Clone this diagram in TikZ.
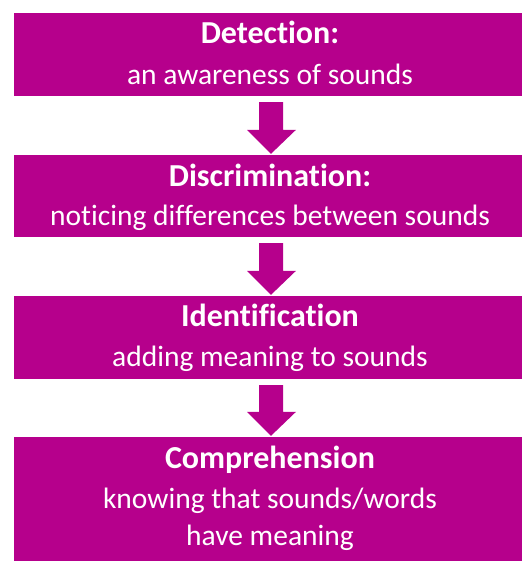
\documentclass[tikz,border=0pt]{standalone}
\usepackage{fontspec}
\setmainfont{Carlito}[RawFeature={-liga}]
\usetikzlibrary{calc}
\definecolor{boxmag}{RGB}{182,0,140}
\newcommand\flowarrow[2]{%
  \fill[arrowfill] ($(#1.south)+(-9,6)$) -- ($(#1.south)+(15,6)$) -- ($(#2.north)+(15,-25)$) -- ($(#2.north)+(28,-25)$) -- ($(#2.north)+(3,-1)$) -- ($(#2.north)+(-21,-25)$) -- ($(#2.north)+(-9,-25)$) -- cycle;}
\begin{document}
\begin{tikzpicture}[x=1pt,y=-1pt,
  stagebox/.style={fill=boxmag,draw=none,inner sep=0pt,minimum width=508pt},
  arrowfill/.style={fill=boxmag},
  headtxt/.style={text=white,anchor=base,inner sep=0pt,font=\fontsize{32}{36}\selectfont\bfseries},
  bodytxt/.style={text=white,anchor=base,inner sep=0pt,font=\fontsize{29.5}{34}\selectfont}]
\useasboundingbox (0,0) rectangle (522,562);
\node[stagebox,minimum height=83pt] (b1) at (268,54.5) {};
\node[stagebox,minimum height=82pt] (b2) at (268,196) {};
\node[stagebox,minimum height=83pt] (b3) at (268,337.5) {};
\node[stagebox,minimum height=124pt] (b4) at (268,499) {};
\node[headtxt] (t1) at (270,43) {Detection:};
\node[bodytxt] (s1) at (270,84) {an awareness of sounds};
\node[headtxt] (t2) at (270,186) {Discrimination:};
\node[bodytxt] (s2) at (270,225) {noticing differences between sounds};
\node[headtxt] (t3) at (270,326) {Identification};
\node[bodytxt] (s3) at (270,366) {adding meaning to sounds};
\node[headtxt] (t4) at (270,468) {Comprehension};
\node[bodytxt] (s4a) at (270,508) {knowing that sounds/words};
\node[bodytxt] (s4b) at (270,545) {have meaning};
\flowarrow{b1}{b2}
\flowarrow{b2}{b3}
\flowarrow{b3}{b4}
\end{tikzpicture}
\end{document}
